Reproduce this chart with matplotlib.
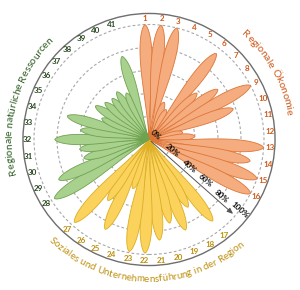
import numpy as np
import matplotlib
matplotlib.use("Agg")
import matplotlib.pyplot as plt
from matplotlib.patches import Polygon, Circle
from matplotlib.font_manager import FontProperties

# ---------------- data ----------------
labels_oek = [str(i) for i in range(1, 17)]
labels_soz = [str(i) for i in range(17, 28)]
labels_nat = [str(i) for i in range(28, 42)]

values_oek = [100, 100, 100, 35, 30, 95, 58, 74, 100, 78, 30, 40, 100, 90, 100, 100]
values_soz = [90, 68, 85, 75, 88, 99, 99, 45, 87, 64, 97]
values_nat = [97, 86, 59, 61, 82, 60, 74, 45, 55, 50, 48, 50, 45, 76]

title_oek = "Regionale Ökonomie"
title_soz = "Soziales und Unternehmensführung in der Region"
title_nat = "Regionale natürliche Ressourcen"

pct_ticks = [0, 20, 40, 60, 80, 100]
pct_labels = ["0%", "20%", "40%", "60%", "80%", "100%"]

# slot layout: 45 slots of 8 degrees, empty slots between the groups
slots_oek = list(range(0, 16))
slots_soz = list(range(18, 29))
slots_nat = list(range(30, 44))
SLOT_DEG = 8.0
ROT = -2.0

# colours
C_OEK_FILL, C_OEK_EDGE, C_OEK_TXT = "#F5AC7E", "#DE7638", "#CF5A1C"
C_SOZ_FILL, C_SOZ_EDGE, C_SOZ_TXT = "#FBD25C", "#DDAE22", "#BE8F0C"
C_NAT_FILL, C_NAT_EDGE, C_NAT_TXT = "#A9D18E", "#6FA24F", "#2C4A22"
C_NAT_TITLE = "#2F5E24"

FONT = "Lato"
PX = 1.15  # pixels per data unit

fig = plt.figure(figsize=(3.0, 2.9), dpi=100)
ax = fig.add_axes([0, 0, 1, 1])
ax.set_xlim(-149 / PX, (300 - 149) / PX)
ax.set_ylim(-(290 - 139.5) / PX, 139.5 / PX)
ax.axis("off")


def pol(theta_deg, r):
    th = np.deg2rad(theta_deg)
    return r * np.sin(th), r * np.cos(th)


def petal(theta_deg, L):
    W = 0.08 * L + 2.4
    s = np.linspace(0, 1, 90)
    h = s ** 1.8 * (1 - s) ** 0.65
    h = h / h.max() * W / 2
    t = s * L
    pts = np.vstack([np.column_stack([t, h]), np.column_stack([t[::-1], -h[::-1]])])
    th = np.deg2rad(theta_deg)
    u = np.array([np.sin(th), np.cos(th)])
    n = np.array([np.cos(th), -np.sin(th)])
    return np.outer(pts[:, 0], u) + np.outer(pts[:, 1], n)


# grid circles
for r in pct_ticks[1:]:
    ax.add_patch(Circle((0, 0), r, fill=False, ec="#A8A8A8", lw=0.8,
                        ls=(0, (2.5, 2)), zorder=1))
ax.add_patch(Circle((0, 0), 109.6, fill=False, ec="#6E6E6E", lw=1.0, zorder=1))

groups = [
    (slots_oek, values_oek, labels_oek, C_OEK_FILL, C_OEK_EDGE, C_OEK_TXT),
    (slots_soz, values_soz, labels_soz, C_SOZ_FILL, C_SOZ_EDGE, C_SOZ_TXT),
    (slots_nat, values_nat, labels_nat, C_NAT_FILL, C_NAT_EDGE, C_NAT_TXT),
]

for slots, vals, labs, fc, ec, tc in groups:
    for sl, v, lab in zip(slots, vals, labs):
        ang = sl * SLOT_DEG + ROT
        ax.add_patch(Polygon(petal(ang, v), closed=True, fc=fc, ec=ec,
                             lw=0.6, zorder=2))
        x, y = pol(ang, 105.5)
        ax.text(x, y, lab, ha="center", va="center", fontsize=5.8,
                fontweight="bold", color=tc, family=FONT, zorder=5)

# percentage axis
AX_ANG = 131.5
x1, y1 = pol(AX_ANG, 100)
ax.annotate("", xy=(x1, y1), xytext=(0, 0),
            arrowprops=dict(arrowstyle="-|>,head_length=0.35,head_width=0.15",
                            color="#555555", lw=0.7), zorder=3)
lab_pos = [(57, 7), (115, 22), (124, 42.5), (126, 61), (127.8, 80), (127.8, 100)]
for (a, r), t in zip(lab_pos, pct_labels):
    x, y = pol(a, r)
    ax.text(x, y, t, ha="center", va="center", fontsize=5.8, fontweight="bold",
            color="#111111", rotation=90 - AX_ANG, rotation_mode="anchor",
            family=FONT, zorder=6)

# curved titles
fig.canvas.draw()
renderer = fig.canvas.get_renderer()


def prefix_widths(s, fp):
    ref = renderer.get_text_width_height_descent("I", fp, ismath=False)[0]
    ws = [0.0]
    for k in range(1, len(s) + 1):
        w = renderer.get_text_width_height_descent(s[:k] + "I", fp, ismath=False)[0] - ref
        ws.append(w)
    return ws


def curved_text(s, a_start, a_end, r, color, outward=True):
    # outward=True: reading clockwise, letter tops outward
    fp10 = FontProperties(family=FONT, size=10)
    ws10 = prefix_widths(s, fp10)
    span_px = abs(a_end - a_start) * np.pi / 180 * r * PX
    first = ws10[1] / 2
    last = (ws10[-1] - ws10[-2]) / 2
    size = 10 * span_px / (ws10[-1] - first - last)
    fp = FontProperties(family=FONT, size=size)
    ws = prefix_widths(s, fp)
    total = ws[-1]
    mid = (a_start + a_end) / 2
    for k, ch in enumerate(s):
        c = (ws[k] + ws[k + 1]) / 2 - total / 2
        dang = np.degrees(c / (r * PX))
        if outward:
            ang = mid + dang
            rot = -ang
        else:
            ang = mid - dang
            rot = 180 - ang
        x, y = pol(ang, r)
        ax.text(x, y, ch, fontproperties=fp, color=color, ha="center",
                va="center", rotation=rot, rotation_mode="anchor", zorder=6)


curved_text(title_oek, 42.6, 78.7, 124, C_OEK_TXT, outward=True)
curved_text(title_nat, 256.5, 315.0, 121.5, C_NAT_TITLE, outward=True)
curved_text(title_soz, 224.0, 138.7, 121.5, C_SOZ_TXT, outward=False)

fig.savefig("out.png", dpi=100)
